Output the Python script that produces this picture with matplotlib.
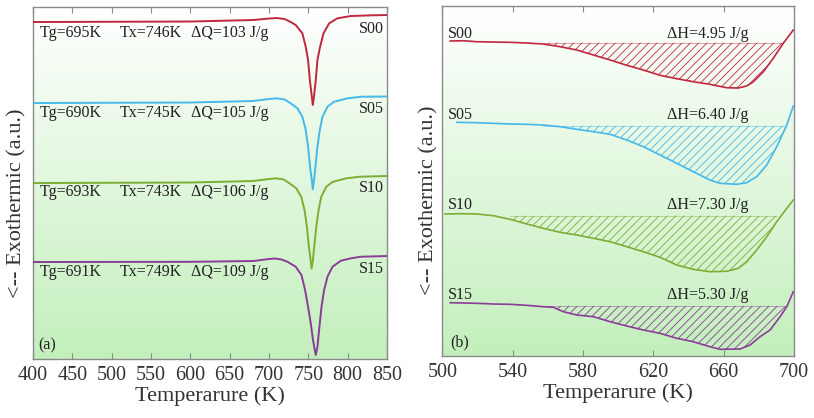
import numpy as np
import matplotlib
matplotlib.use('Agg')
import matplotlib.pyplot as plt
from matplotlib.colors import LinearSegmentedColormap

plt.rcParams['font.family'] = ['Liberation Serif', 'DejaVu Serif']
plt.rcParams['hatch.linewidth'] = 0.6

# ---------------- panel (a): DSC scans ----------------
T_s00 = [400, 600, 680, 700, 710, 720, 727.6, 734, 742.5, 746.7, 749.7, 752.2, 754.4, 755.7, 757.3, 759.5, 761.6, 765, 769.3, 776.5, 787, 804, 830, 850]
q_s00 = [33.7, 33.75, 33.9, 34.05, 34.1, 34.0, 33.7, 33.4, 32.57, 31.23, 29.9, 27.7, 26.3, 25.4, 26.3, 27.9, 29.9, 31.23, 32.57, 33.57, 34.07, 34.3, 34.37, 34.4]

T_s05 = [400, 600, 680, 700, 710, 720, 727.6, 736.2, 742.5, 746.7, 749.7, 752.2, 754.4, 755.7, 757.3, 759.5, 761.6, 764.6, 768, 774.4, 782.8, 799.9, 816.9, 850]
q_s05 = [25.6, 25.65, 25.8, 26.0, 26.07, 25.95, 25.57, 25.07, 24.23, 22.9, 21.23, 19.23, 17.9, 16.97, 17.9, 19.57, 21.23, 22.9, 24.23, 25.23, 25.73, 26.07, 26.23, 26.25]

T_s10 = [400, 600, 680, 700, 709, 719, 726, 734.7, 741, 745.2, 748.2, 750.7, 752.9, 754.2, 755.8, 758, 760.1, 763.1, 766.5, 772.9, 781.3, 798.4, 815.4, 850]
q_s10 = [17.6, 17.65, 17.8, 18.0, 18.07, 17.95, 17.57, 17.07, 16.23, 14.9, 13.23, 11.23, 9.9, 9.05, 9.9, 11.57, 13.23, 14.9, 16.23, 17.23, 17.73, 18.07, 18.23, 18.3]

T_s15 = [400, 600, 680, 700, 708, 716, 723.4, 734, 741.3, 745.9, 749.7, 753.1, 756, 758.2, 759.5, 761.6, 763.7, 766.8, 770.1, 774.4, 780.8, 791.4, 804.1, 816.9, 850]
q_s15 = [9.7, 9.72, 9.8, 10.0, 10.05, 9.95, 9.73, 9.23, 8.4, 6.9, 5.23, 3.57, 1.9, 0.9, 0.4, 1.23, 2.9, 5.23, 6.9, 8.23, 9.23, 9.83, 10.07, 10.23, 10.3]

samples = ['S00', 'S05', 'S10', 'S15']
colors = ['#c1263f', '#45b9ea', '#7cae34', '#8a3d98']
Tg = ['Tg=695K', 'Tg=690K', 'Tg=693K', 'Tg=691K']
Tx = ['Tx=746K', 'Tx=745K', 'Tx=743K', 'Tx=749K']
dQ = ['ΔQ=103 J/g', 'ΔQ=105 J/g', 'ΔQ=106 J/g', 'ΔQ=109 J/g']
row_y_a = [32.57, 24.63, 16.73, 8.67]
name_y_a = [32.97, 25.0, 17.13, 9.0]

# ---------------- panel (b): relaxation enthalpy ----------------
Tb_s00 = [504.4, 511.9, 519.6, 529.0, 538.5, 548.0, 557.4, 566.9, 576.4, 585.9, 595.4, 604.9, 614.3, 623.8, 633.3, 642.7, 652.2, 661.7, 668.3, 673.1, 676.9, 682.6, 688.2, 693.9, 699.6]
h_s00 = [31.5, 31.53, 31.43, 31.4, 31.37, 31.3, 31.2, 30.93, 30.6, 30.1, 29.6, 29.07, 28.6, 28.07, 27.73, 27.43, 27.17, 26.83, 26.8, 27.0, 27.43, 28.43, 29.77, 31.27, 32.6]

Tb_s05 = [508.2, 519.6, 529.0, 538.5, 548.0, 557.4, 566.9, 576.4, 585.9, 595.4, 604.9, 614.3, 623.8, 633.3, 642.7, 652.2, 657.9, 667.4, 673.1, 678.8, 684.5, 690.2, 695.9, 699.6]
h_s05 = [23.37, 23.33, 23.27, 23.2, 23.17, 23.1, 22.93, 22.67, 22.43, 22.17, 21.6, 20.93, 20.1, 19.27, 18.43, 17.6, 17.27, 17.17, 17.33, 17.93, 19.1, 20.93, 23.1, 25.0]

Tb_s10 = [501.5, 510.1, 519.6, 529.0, 538.5, 548.0, 557.4, 566.9, 576.4, 585.9, 595.4, 604.9, 614.3, 623.8, 633.3, 642.7, 652.2, 661.7, 668.3, 673.1, 678.8, 684.5, 690.2, 695.9, 699.6]
h_s10 = [14.2, 14.23, 14.2, 14.03, 13.67, 13.2, 12.77, 12.37, 12.1, 11.77, 11.43, 10.93, 10.43, 9.87, 9.1, 8.67, 8.43, 8.47, 8.77, 9.43, 10.6, 11.93, 13.43, 14.77, 15.6]

Tb_s15 = [504.4, 519.6, 529.0, 538.5, 548.0, 557.4, 563.1, 568.8, 576.4, 585.9, 595.4, 604.9, 614.3, 623.8, 633.3, 642.7, 652.2, 657.9, 669.3, 675.0, 680.7, 686.4, 692.1, 695.9, 699.6]
h_s15 = [5.33, 5.27, 5.2, 5.17, 5.07, 4.93, 4.87, 4.43, 4.1, 3.93, 3.43, 3.0, 2.6, 2.27, 1.77, 1.43, 0.93, 0.67, 0.7, 1.1, 1.93, 2.6, 3.93, 4.93, 6.43]

dH = ['ΔH=4.95 J/g', 'ΔH=6.40 J/g', 'ΔH=7.30 J/g', 'ΔH=5.30 J/g']
hatch_level = [31.33, 23.03, 14.03, 5.0]
hatch_start = [557.4, 557.4, 538.5, 557.4]
hatch_end = [693.9, 695.9, 690.2, 695.9]
name_y_b = [32.2, 24.1, 15.1, 6.1]

curves_a = [(T_s00, q_s00), (T_s05, q_s05), (T_s10, q_s10), (T_s15, q_s15)]
curves_b = [(Tb_s00, h_s00), (Tb_s05, h_s05), (Tb_s10, h_s10), (Tb_s15, h_s15)]

bg = LinearSegmentedColormap.from_list('bg', ['#c3efbc', '#ffffff'])
frame = '#8a8a8a'

fig = plt.figure(figsize=(8.14, 4.18), dpi=100)
axa = fig.add_axes([0.0405, 0.1411, 0.4349, 0.8421])
axb = fig.add_axes([0.5436, 0.1483, 0.4318, 0.8373])


def style(ax, xlim, ylim, xticks):
    ax.set_xlim(*xlim)
    ax.set_ylim(*ylim)
    grad = np.linspace(0, 1, 256).reshape(-1, 1)
    ax.imshow(grad, cmap=bg, aspect='auto', origin='lower',
              extent=[xlim[0], xlim[1], ylim[0], ylim[1]], zorder=0)
    ax.set_xticks(xticks)
    ax.set_yticks([])
    ax.tick_params(axis='x', direction='in', top=True, length=4, color=frame,
                   labelsize=14.5, labelcolor='#333333', pad=5)
    for s in ax.spines.values():
        s.set_color(frame)
        s.set_linewidth(1.0)
    ax.set_xlabel('Temperarure (K)', fontsize=16, color='#333333', labelpad=1)
    ax.set_ylabel('<-- Exothermic (a.u.)', fontsize=16, color='#333333')


# panel (a)
style(axa, (400, 850), (0, 35.2), np.arange(400, 851, 50))
axa.yaxis.set_label_coords(-0.018, 0.443)
for i in range(4):
    T, q = curves_a[i]
    axa.plot(T, q, color=colors[i], lw=1.4, zorder=3)
    axa.text(409, row_y_a[i], Tg[i], fontsize=11.5, va='center', color='#222222')
    axa.text(510, row_y_a[i], Tx[i], fontsize=11.5, va='center', color='#222222')
    axa.text(601, row_y_a[i], dQ[i], fontsize=11.5, va='center', color='#222222')
    axa.text(846, name_y_a[i], samples[i], fontsize=11.5, va='center', ha='right', color='#222222')
axa.text(406.5, 1.35, '(a)', fontsize=11.5, va='center', color='#222222')

# panel (b)
style(axb, (500, 700), (0, 35), np.arange(500, 701, 40))
axb.yaxis.set_label_coords(-0.01, 0.446)
for i in range(4):
    T, h = np.array(curves_b[i][0]), np.array(curves_b[i][1])
    axb.plot(T, h, color=colors[i], lw=1.2, zorder=3)
    sel = (T >= hatch_start[i]) & (T <= hatch_end[i])
    axb.fill_between(T, h, hatch_level[i], where=sel, facecolor='none',
                     edgecolor=colors[i], hatch='////', linewidth=0, zorder=2)
    axb.plot([hatch_start[i], hatch_end[i]], [hatch_level[i], hatch_level[i]],
             color=colors[i], lw=0.6, alpha=0.5, zorder=2)
    axb.text(503, name_y_b[i], samples[i], fontsize=11.5, va='center', color='#222222')
    axb.text(627.5, name_y_b[i], dH[i], fontsize=11.5, va='center', color='#222222')
axb.text(504.4, 1.4, '(b)', fontsize=11.5, va='center', color='#222222')

fig.savefig('out.png', dpi=100)
